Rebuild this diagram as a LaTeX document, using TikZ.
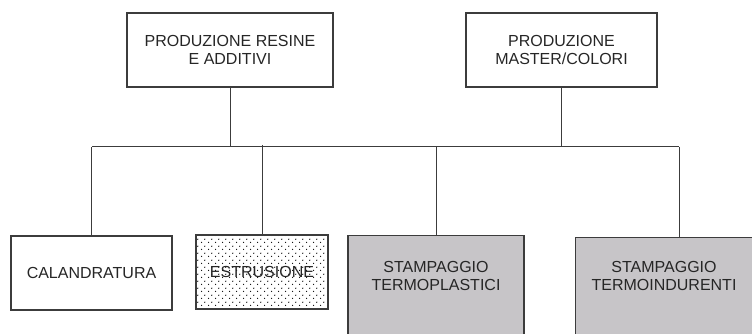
\documentclass[tikz,border=0pt]{standalone}
\usepackage{fontspec}
\setmainfont{Liberation Sans}
\usepackage{xcolor}
\usepackage{tikz}
\usetikzlibrary{patterns, positioning}

\definecolor{linegray}{RGB}{60,60,60}
\definecolor{boxgray}{RGB}{199,197,200}

\pgfdeclarepatternformonly{sparse dots}{\pgfpointorigin}{\pgfqpoint{5pt}{5pt}}{\pgfqpoint{5pt}{5pt}}{
  \pgfpathcircle{\pgfqpoint{1.25pt}{1.25pt}}{0.5pt}
  \pgfpathcircle{\pgfqpoint{3.75pt}{3.75pt}}{0.5pt}
  \pgfusepath{fill}
}

\begin{document}
\begin{tikzpicture}[
            x=0.75pt, y=-0.75pt,
            every node/.style={font=\fontsize{12}{13.5}\selectfont, text=black!85, align=center},
            box/.style={rectangle, draw=linegray, line width=0.8pt, inner sep=0pt},
            plainbox/.style={box, fill=white},
            dotbox/.style={box, pattern=sparse dots, pattern color=black},
            graybox/.style={box, fill=boxgray, anchor=north},
            link/.style={draw=linegray, line width=0.75pt}
        ]
            \clip (0,0) rectangle (752,334);
            \useasboundingbox (0,0) rectangle (752,334);

            \node[plainbox, minimum width=154.5pt, minimum height=55.5pt] (resine) at (230,50) {PRODUZIONE RESINE\\E ADDITIVI};
            \node[plainbox, minimum width=143.25pt, minimum height=55.5pt] (master) at (561.5,50) {PRODUZIONE\\MASTER/COLORI};

            \node[plainbox, minimum width=120.75pt, minimum height=55.5pt] (cal) at (91.5,273) {CALANDRATURA};
            \node[dotbox, minimum width=99pt, minimum height=55.5pt] (estr) at (262,272) {ESTRUSIONE};
            \node[graybox, minimum width=132pt, minimum height=90pt] (termopl) at (436,235) {};
            \node[graybox, minimum width=146pt, minimum height=90pt, anchor=north west] (termoind) at (575,237) {};
            \node (termopltext) at (436,276) {STAMPAGGIO\\TERMOPLASTICI};
            \node (termoindtext) at (664,276) {STAMPAGGIO\\TERMOINDURENTI};

            \coordinate (busL) at (92,147);
            \coordinate (busR) at (679,147);

            \path[link] (busL) -- (busR);
            \path[link] (resine.south) -- (resine.south |- busL);
            \path[link] (master.south) -- (master.south |- busL);
            \path[link] (cal.north |- busL) -- (cal.north);
            \path[link] ([yshift=1.5pt]estr.north |- busL) -- (estr.north);
            \path[link] (termopl.north |- busL) -- (termopl.north);
            \path[link] (busR) -- (busR |- termoind.north);
        \end{tikzpicture}
\end{document}
